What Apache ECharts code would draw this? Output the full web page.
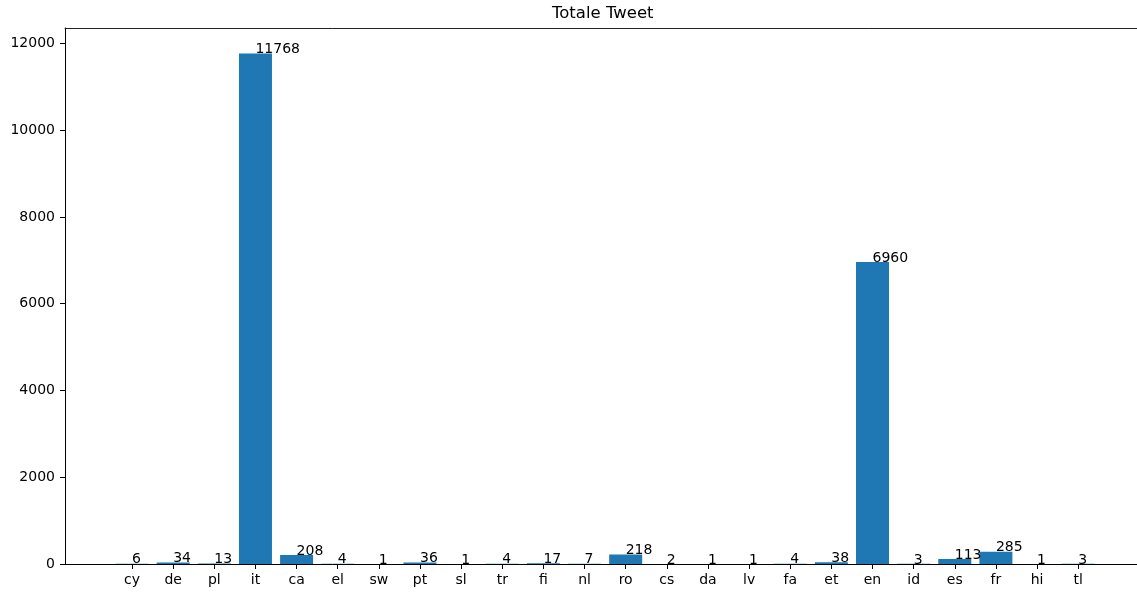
<!DOCTYPE html>
<html>
<head>
<meta charset="utf-8">
<script src="https://cdn.jsdelivr.net/npm/echarts@6/dist/echarts.min.js"></script>
<style>
html,body{margin:0;padding:0;background:#fff;}
#c{width:1137px;height:592px;}
</style>
</head>
<body>
<div id="c"></div>
<script>
const categories = ['cy','de','pl','it','ca','el','sw','pt','sl','tr','fi','nl','ro','cs','da','lv','fa','et','en','id','es','fr','hi','tl'];
const values = [6,34,13,11768,208,4,1,36,1,4,17,7,218,2,1,1,4,38,6960,3,113,285,1,3];
const yTicks = [0,2000,4000,6000,8000,10000,12000];
const titleText = 'Totale Tweet';

const positions = categories.map((c, i) => i);
const barData = values.map((v, i) => [positions[i], v]);
const FONT = 'DejaVu Sans';

const chart = echarts.init(document.getElementById('c'), null, {renderer: 'canvas'});
chart.setOption({
  animation: false,
  backgroundColor: '#fff',
  title: {
    text: titleText,
    left: 547,
    top: 0,
    textStyle: {fontFamily: FONT, fontSize: 16.5, fontWeight: 'normal', color: '#000'}
  },
  grid: {left: 65, right: 0, top: 28, bottom: 28, show: false},
  xAxis: [{
    type: 'value',
    min: -1.63,
    max: 24.43,
    splitLine: {show: false},
    axisLine: {show: true, onZero: false, lineStyle: {color: '#000', width: 1}},
    axisTick: {show: true, length: 5, lineStyle: {color: '#000'}, customValues: positions},
    axisLabel: {
      customValues: positions,
      margin: 9,
      fontFamily: FONT, fontSize: 14, color: '#000',
      formatter: v => categories[Math.round(v)] || ''
    }
  }, {
    type: 'value',
    position: 'top',
    min: -1.63,
    max: 24.43,
    splitLine: {show: false},
    axisLine: {show: true, onZero: false, lineStyle: {color: '#222', width: 1}},
    axisTick: {show: false},
    axisLabel: {show: false}
  }],
  yAxis: {
    type: 'value',
    min: 0,
    max: 12356.4,
    splitLine: {show: false},
    axisLine: {show: true, onZero: false, lineStyle: {color: '#000', width: 1}},
    axisTick: {show: true, length: 5, lineStyle: {color: '#000'}, customValues: yTicks},
    axisLabel: {
      customValues: yTicks,
      margin: 10,
      fontFamily: FONT, fontSize: 14, color: '#000',
      formatter: v => String(v)
    }
  },
  series: [{
    type: 'bar',
    xAxisIndex: 0,
    data: barData,
    barWidth: 33,
    itemStyle: {color: '#1f77b4'},
    label: {
      show: true,
      position: [16.5, 3],
      align: 'left',
      verticalAlign: 'bottom',
      fontFamily: FONT, fontSize: 14, color: '#000',
      formatter: p => String(p.value[1])
    }
  }]
});
</script>
</body>
</html>
